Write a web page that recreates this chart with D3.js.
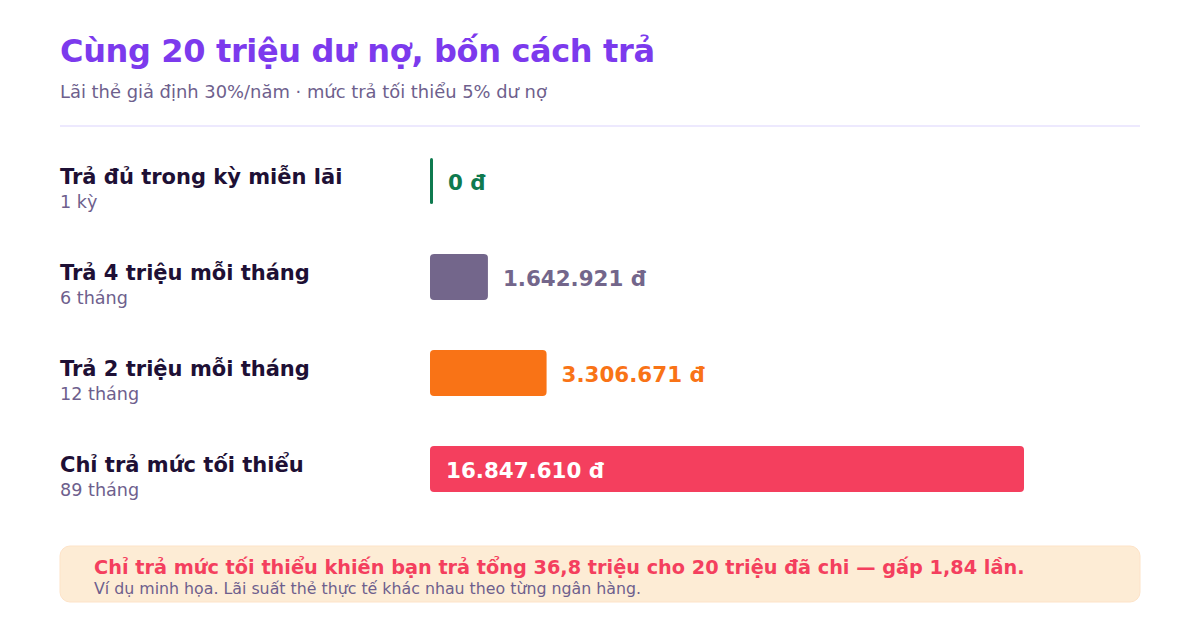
<!DOCTYPE html>
<html lang="vi">
<head>
<meta charset="UTF-8">
<title>Cùng 20 triệu dư nợ, bốn cách trả</title>
<style>
body { margin: 0; background: #fff; }
svg { display: block; font-family: 'DejaVu Sans', sans-serif; }
</style>
<script src="https://cdn.jsdelivr.net/npm/d3@7/dist/d3.min.js"></script>
</head>
<body>
<script>
// data
const plans = ["Trả đủ trong kỳ miễn lãi", "Trả 4 triệu mỗi tháng", "Trả 2 triệu mỗi tháng", "Chỉ trả mức tối thiểu"];
const durations = ["1 kỳ", "6 tháng", "12 tháng", "89 tháng"];
const interest = [0, 1642921, 3306671, 16847610];
const colors = ["#0f7a4f", "#73668b", "#f97316", "#f43f5e"];

const W = 1200, H = 620;
const svg = d3.select("body").append("svg").attr("width", W).attr("height", H);

// header
svg.append("text").attr("x", 60).attr("y", 62)
    .attr("font-size", 32).attr("font-weight", "bold").attr("fill", "#7c3aed")
    .attr("letter-spacing", -0.35)
    .text("Cùng 20 triệu dư nợ, bốn cách trả");
svg.append("text").attr("x", 60).attr("y", 98)
    .attr("font-size", 17.9).attr("fill", "#6e5f8d")
    .text("Lãi thẻ giả định 30%/năm · mức trả tối thiểu 5% dư nợ");
svg.append("line").attr("x1", 60).attr("x2", 1140).attr("y1", 126).attr("y2", 126)
    .attr("stroke", "#ede9fe").attr("stroke-width", 2);

// scales
const x = d3.scaleLinear().domain([0, d3.max(interest)]).range([430, 1024]);
const y = d3.scaleBand().domain(plans).range([133, 517]).paddingInner(0.52).paddingOuter(0.26);

const rows = svg.append("g").selectAll("g")
    .data(plans.map((p, i) => ({ plan: p, dur: durations[i], v: interest[i], c: colors[i], last: i === plans.length - 1 })))
    .join("g");

rows.append("text")
    .attr("x", 60).attr("y", d => y(d.plan) + 26)
    .attr("font-size", 21).attr("font-weight", "bold").attr("fill", "#1e1035")
    .text(d => d.plan);
rows.append("text")
    .attr("x", 60).attr("y", d => y(d.plan) + 50)
    .attr("font-size", 17.6).attr("fill", "#6e5f8d")
    .text(d => d.dur);

rows.append("rect")
    .attr("x", x(0))
    .attr("y", d => y(d.plan))
    .attr("width", d => Math.max(3, x(d.v) - x(0)))
    .attr("height", y.bandwidth())
    .attr("rx", d => d.v === 0 ? 1.5 : 4)
    .attr("fill", d => d.c);

const fmt = v => d3.format(",")(v).replace(/,/g, ".") + " đ";

rows.append("text")
    .attr("x", d => d.last ? x(0) + 16 : Math.max(x(d.v), x(0) + 3) + 15)
    .attr("y", d => y(d.plan) + 32)
    .attr("font-size", 21.4).attr("font-weight", "bold")
    .attr("fill", d => d.last ? "#fff" : d.c)
    .text(d => fmt(d.v));

// callout
svg.append("rect").attr("x", 60).attr("y", 546).attr("width", 1080).attr("height", 56)
    .attr("rx", 10).attr("fill", "#fdecd5").attr("stroke", "#fde3c8");
svg.append("text").attr("x", 94).attr("y", 574)
    .attr("font-size", 19.3).attr("font-weight", "bold").attr("fill", "#f43f5e")
    .text("Chỉ trả mức tối thiểu khiến bạn trả tổng 36,8 triệu cho 20 triệu đã chi — gấp 1,84 lần.");
svg.append("text").attr("x", 94).attr("y", 594)
    .attr("font-size", 15.8).attr("fill", "#6e5f8d")
    .text("Ví dụ minh họa. Lãi suất thẻ thực tế khác nhau theo từng ngân hàng.");
</script>
</body>
</html>
